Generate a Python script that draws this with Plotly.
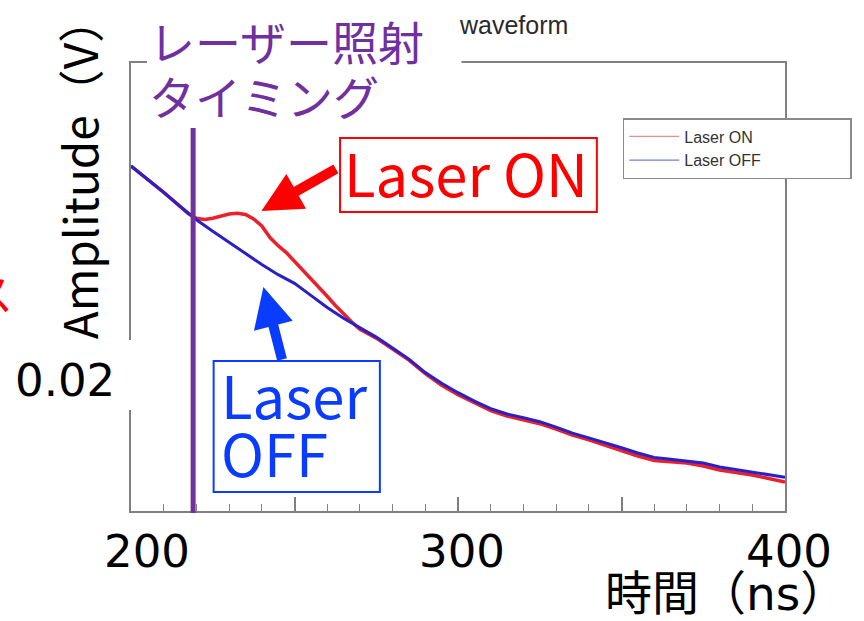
import plotly.graph_objects as go

# Averaged waveforms (time in ns, amplitude in V)
time_off_ns = [200, 205, 210, 215, 220, 225, 230, 235, 240, 245,
               250, 255, 260, 265, 270, 275, 280, 285, 290, 295,
               300, 305, 310, 315, 320, 325, 330, 335, 340, 345,
               350, 355, 360, 365, 370, 375, 380, 385, 390, 395, 400]

amp_laser_off = [0.0414, 0.0401, 0.03877, 0.03737, 0.03603, 0.03488, 0.03374, 0.03265, 0.03155, 0.03053,
                 0.02967, 0.02846, 0.02725, 0.02618, 0.02521, 0.02429, 0.02319, 0.02209, 0.02074, 0.01967,
                 0.01873, 0.01789, 0.01714, 0.0166, 0.01624, 0.01583, 0.01529, 0.01469, 0.01421, 0.01375,
                 0.01322, 0.0127, 0.01225, 0.01207, 0.0119, 0.0117, 0.0113, 0.01105, 0.01081, 0.01055, 0.01028]

# finer sampling around the laser-induced bump
time_on_ns = [200, 205, 210, 215, 217.5, 220, 222.5, 225, 227.5, 230,
              232.5, 235, 237.5, 240, 242.5, 245, 247.5, 250, 252.5, 255,
              257.5, 260, 262.5, 265, 267.5, 270, 275, 280, 285, 290,
              295, 300, 305, 310, 315, 320, 325, 330, 335, 340,
              345, 350, 355, 360, 365, 370, 375, 380, 385, 390, 395, 400]

amp_laser_on = [0.0414, 0.0401, 0.03877, 0.03737, 0.03665, 0.03617, 0.03605, 0.03617, 0.03638, 0.0366,
                0.03668, 0.03655, 0.0361, 0.0354, 0.03425, 0.03343, 0.03274, 0.03189, 0.03104, 0.03018,
                0.02928, 0.02837, 0.02745, 0.0266, 0.0258, 0.02506, 0.02419, 0.02309, 0.02199, 0.02064,
                0.01947, 0.01853, 0.01769, 0.01694, 0.0164, 0.01604, 0.01563, 0.01509, 0.01449, 0.01401,
                0.01345, 0.01292, 0.0124, 0.01195, 0.01182, 0.0117, 0.0114, 0.011, 0.01075, 0.0105, 0.01015, 0.0098]

laser_timing_ns = 219
x_tick_values = [200, 300, 400]
x_tick_text = ["200", "300", "400"]
y_tick_value = 0.02
y_tick_text = "0.02"

# page and plot-area geometry (pixels)
FIG_W, FIG_H = 864, 621
L, R, T, B = 131, 788, 63, 511
Y_RANGE = [0.0069, 0.0517]

PURPLE = "#7030a0"
RED = "#ff0000"
BLUE = "#0a3cff"
CJK = "Noto Sans CJK JP"
LATIN = "DejaVu Sans"
ROOTFONT = "Liberation Sans"


def pxx(x):
    return (x - L) / (R - L)


def pxy(y):
    return (B - y) / (B - T)


fig = go.Figure()

fig.add_trace(go.Scatter(x=time_on_ns, y=amp_laser_on, mode="lines", showlegend=False,
                         line=dict(color="#e8222c", width=3.5)))
fig.add_trace(go.Scatter(x=time_off_ns, y=amp_laser_off, mode="lines", showlegend=False,
                         line=dict(color="#2a1fc8", width=3)))

# thin legend keys
fig.add_trace(go.Scatter(x=[None], y=[None], mode="lines", name="Laser ON",
                         line=dict(color="#ee8a8a", width=1.3)))
fig.add_trace(go.Scatter(x=[None], y=[None], mode="lines", name="Laser OFF" + "\u00a0" * 19,
                         line=dict(color="#7a7ad8", width=1.3)))

shapes = [
    # white panel behind the timing label
    dict(type="rect", xref="paper", yref="paper", x0=pxx(147), x1=pxx(463), y0=pxy(126), y1=pxy(-2),
         fillcolor="white", line=dict(width=0), layer="above"),
    # white panel behind the y value label
    dict(type="rect", xref="paper", yref="paper", x0=pxx(-5), x1=pxx(143), y0=pxy(410), y1=pxy(340),
         fillcolor="white", line=dict(width=0), layer="above"),
    # laser timing marker
    dict(type="line", xref="x", yref="paper", x0=laser_timing_ns, x1=laser_timing_ns,
         y0=pxy(513), y1=pxy(128), line=dict(color=PURPLE, width=5), layer="above"),
    # callout boxes
    dict(type="rect", xref="paper", yref="paper", x0=pxx(341), x1=pxx(599), y0=pxy(212), y1=pxy(138),
         fillcolor="white", line=dict(color=RED, width=2), layer="above"),
    dict(type="rect", xref="paper", yref="paper", x0=pxx(214), x1=pxx(381), y0=pxy(492), y1=pxy(361),
         fillcolor="white", line=dict(color=BLUE, width=2), layer="above"),
]

annotations = [
    # plot title (ROOT style)
    dict(text="waveform", xref="paper", yref="paper", x=pxx(572), y=pxy(25), xanchor="right",
         yanchor="middle", showarrow=False, font=dict(family=ROOTFONT, size=25, color="#2a2a2a")),
    # timing label
    dict(text="レーザー照射", xref="paper", yref="paper", x=pxx(147), y=pxy(40), xanchor="left",
         yanchor="middle", showarrow=False, font=dict(family=CJK, size=46, color=PURPLE)),
    dict(text="タイミング", xref="paper", yref="paper", x=pxx(147), y=pxy(95), xanchor="left",
         yanchor="middle", showarrow=False, font=dict(family=CJK, size=46, color=PURPLE)),
    # callout texts
    dict(text="Laser ON", xref="paper", yref="paper", x=pxx(468), y=pxy(172), xanchor="center",
         yanchor="middle", showarrow=False, font=dict(family=CJK, size=58, color=RED)),
    dict(text="Laser", xref="paper", yref="paper", x=pxx(219), y=pxy(394), xanchor="left",
         yanchor="middle", showarrow=False, font=dict(family=CJK, size=58, color=BLUE)),
    dict(text="OFF", xref="paper", yref="paper", x=pxx(219), y=pxy(452), xanchor="left",
         yanchor="middle", showarrow=False, font=dict(family=CJK, size=58, color=BLUE)),
    # arrows
    dict(text="", xref="paper", yref="paper", x=pxx(262), y=pxy(211), ax=338 - 262, ay=168 - 211,
         showarrow=True, arrowhead=2, arrowsize=0.8, arrowwidth=10, arrowcolor=RED, standoff=0),
    dict(text="", xref="paper", yref="paper", x=pxx(264), y=pxy(287), ax=283 - 264, ay=361 - 287,
         showarrow=True, arrowhead=2, arrowsize=0.8, arrowwidth=10, arrowcolor=BLUE, standoff=0),
    # axis titles
    dict(text="Amplitude（V）", xref="paper", yref="paper", x=pxx(78), y=pxy(168), textangle=-90,
         xanchor="center", yanchor="middle", showarrow=False, font=dict(family=CJK, size=46, color="black")),
    dict(text="時間（ns）", xref="paper", yref="paper", x=pxx(605), y=pxy(593), xanchor="left",
         yanchor="middle", showarrow=False,
         font=dict(family=LATIN + ", " + CJK, size=47, color="black")),
    # partially visible label at the left edge
    dict(text="ス", xref="paper", yref="paper", x=pxx(-10), y=pxy(292), xanchor="center",
         yanchor="middle", showarrow=False, font=dict(family=CJK, size=44, color=RED)),
    # y value label
    dict(text=y_tick_text, xref="paper", yref="y", x=pxx(117), y=y_tick_value, xanchor="right",
         yanchor="middle", showarrow=False, font=dict(family=LATIN, size=45, color="black")),
]

# x value labels
x_label_shift = [16, 4, 4]
for val, txt, sh in zip(x_tick_values, x_tick_text, x_label_shift):
    annotations.append(dict(text=txt, xref="x", yref="paper", x=val, y=pxy(551), xshift=sh,
                            xanchor="center", yanchor="middle", showarrow=False,
                            font=dict(family=LATIN, size=45, color="black")))

fig.update_layout(
    width=FIG_W, height=FIG_H,
    margin=dict(l=L, r=FIG_W - R, t=T, b=FIG_H - B, pad=0),
    paper_bgcolor="white", plot_bgcolor="white",
    shapes=shapes, annotations=annotations,
    legend=dict(x=pxx(625), y=pxy(118), xanchor="left", yanchor="top",
                bgcolor="white", bordercolor="#8a8a8a", borderwidth=1.5,
                font=dict(family=ROOTFONT, size=16, color="#333333"),
                itemwidth=50, tracegroupgap=0),
    xaxis=dict(range=[200, 400], showgrid=False, zeroline=False, showticklabels=False,
               showline=True, linecolor="#808080", linewidth=2, mirror=True,
               ticks="inside", tickvals=[200, 250, 300, 350, 400], ticklen=14,
               tickwidth=1.5, tickcolor="#808080",
               minor=dict(dtick=10, tick0=200, ticks="inside", ticklen=7, tickwidth=1.2,
                          tickcolor="#808080", showgrid=False)),
    yaxis=dict(range=Y_RANGE, showgrid=False, zeroline=False, showticklabels=False,
               showline=True, linecolor="#808080", linewidth=2, mirror=True, ticks=""),
)

fig.write_html("out.html")
